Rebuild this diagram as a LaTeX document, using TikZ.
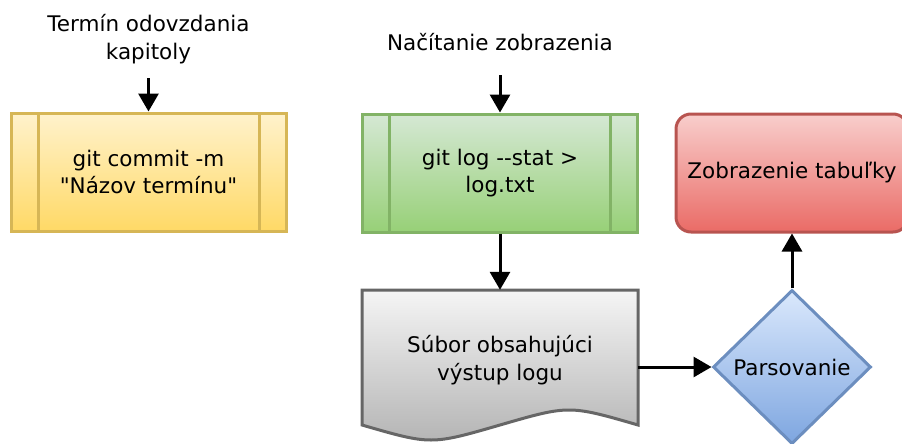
\documentclass[tikz,border=0pt]{standalone}
\usepackage{fontspec}
\setmainfont{DejaVu Sans}
\usepackage{tikz}
\usetikzlibrary{arrows.meta,positioning,shapes.geometric}
\definecolor{ytop}{HTML}{FFF2CC}
\definecolor{ybot}{HTML}{FFD966}
\definecolor{yline}{HTML}{D6B656}
\definecolor{gtop}{HTML}{D5E8D4}
\definecolor{gbot}{HTML}{97D077}
\definecolor{gline}{HTML}{82B366}
\definecolor{rtop}{HTML}{F8CECC}
\definecolor{rbot}{HTML}{EA6B66}
\definecolor{rline}{HTML}{B85450}
\definecolor{btop}{HTML}{DAE8FC}
\definecolor{bbot}{HTML}{7EA6E0}
\definecolor{bline}{HTML}{6C8EBF}
\definecolor{dtop}{HTML}{F5F5F5}
\definecolor{dbot}{HTML}{B3B3B3}
\definecolor{dline}{HTML}{666666}

\begin{document}
\begin{tikzpicture}[
  x=1pt, y=-1pt,
  txt/.style={align=center, font=\fontsize{21.5}{27.5}\selectfont},
  box/.style={txt, minimum width=275pt, minimum height=118pt, inner sep=0pt,
              line width=3pt},
  sub/.style={draw=#1, path picture={
      \draw[#1, line width=3pt]
        ([xshift=27pt]path picture bounding box.north west) --
        ([xshift=27pt]path picture bounding box.south west)
        ([xshift=-27pt]path picture bounding box.north east) --
        ([xshift=-27pt]path picture bounding box.south east);}},
  head/.style={txt, inner sep=0pt},
  arr/.style={-{Triangle[length=18pt,width=20pt]}, line width=3pt}
]
\useasboundingbox (0,0) rectangle (902,444);
\clip (0,0) rectangle (902,444);

% left column
\node[box, sub=yline, top color=ytop, bottom color=ybot] (commit) at (148.5,172)
  {git commit -m\\\textquotedbl Názov termínu\textquotedbl};
\node[head, minimum height=78pt] (term) at (148.5,39) {Termín odovzdania\\kapitoly};
\draw[arr] (term) -- (commit);

% middle column
\node[box, sub=gline, top color=gtop, bottom color=gbot] (gitlog) at (500,173)
  {git log -{}-stat >\\log.txt};
\node[head, minimum height=66pt] (load) at (500,42) {Načítanie zobrazenia};
\draw[arr] (load) -- (gitlog);

\shade[top color=dtop, bottom color=dbot, draw=dline, line width=3pt]
  (362,290) -- (638,290) -- (638,425) .. controls (569,405) .. (500,425)
  .. controls (431,445) .. (362,425) -- cycle;
\node[txt, minimum width=276pt, minimum height=140pt, inner sep=0pt] (doc) at (500,360)
  {Súbor obsahujúci\\výstup logu};
\draw[arr] (gitlog) -- (doc);

% right column
\node[txt, diamond, aspect=1.03, minimum width=158pt, minimum height=154pt, inner sep=0pt,
      draw=bline, line width=3pt, top color=btop, bottom color=bbot] (pars) at (792,367)
  {Parsovanie};
\node[box, minimum width=232pt, rounded corners=15pt, draw=rline,
      top color=rtop, bottom color=rbot] (show) at (792,173) {Zobrazenie tabuľky};
\draw[arr] (doc.east |- pars) -- (pars);
\draw[arr] (pars) -- (show);
\end{tikzpicture}
\end{document}
